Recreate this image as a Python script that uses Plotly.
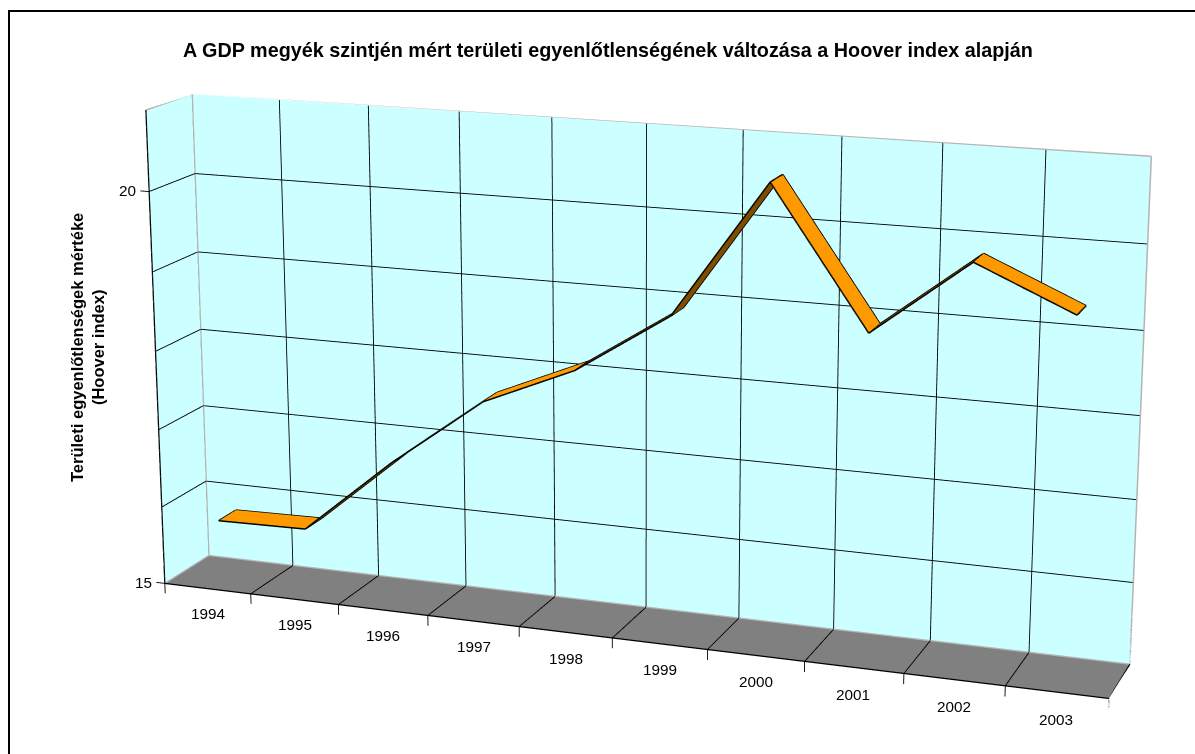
import numpy as np
import plotly.graph_objects as go

# ---- data ----
years = ["1994", "1995", "1996", "1997", "1998", "1999", "2000", "2001", "2002", "2003"]
hoover = [15.78, 15.80, 16.78, 17.65, 18.15, 18.91, 20.58, 18.91, 19.83, 19.32]
value_ticks = [15, 20]
grid_values = [15, 16, 17, 18, 19, 20, 21]
title = "A GDP megyék szintjén mért területi egyenlőtlenségének változása a Hoover index alapján"
y_title = "Területi egyenlőtlenségek mértéke<br>(Hoover index)"

# ---- styles ----
ORANGE = "#FF9900"; BROWN = "#7F4C00"; WALL = "#CCFFFF"; FLOOR = "#808080"; EDGE = "#B4B4B4"
# side of the ribbon that faces the viewer on each segment
segment_colors = [ORANGE, BROWN, BROWN, ORANGE, BROWN, BROWN, ORANGE, BROWN, ORANGE]

# ---- 3-D box: categories along x, series depth along y, value along z ----
n = len(years)
Zlo, Zhi = grid_values[0], grid_values[-1]
RIB0, RIB1 = 0.3, 0.7          # 150 % gap depth
xr = [-0.45, n]; yr = [0, 1.01]; zr = [14.55, Zhi]

# camera, fitted for the box x 0..10, y 0..1, z 15..21 with sizes 2, 0.1996, 1.0043
base_range = [(0, 10), (0, 1), (15, 21)]
base_size = np.array([2.0, 0.1996, 1.0043])
EYE = np.array([2.0743, -5.7019, 1.6224]); CEN = np.array([-1.2872, 3.5968, -0.9954])
UP = (0.0045, -0.0157, 1.0)
CX, CY, F = 635.7, 374.9, 3171.0
unit = base_size / np.array([b - a for a, b in base_range])
new_range = [xr, yr, zr]
size = np.array([(r[1] - r[0]) for r in new_range]) * unit
shift = np.array([(sum(r) - sum(b)) / 2 for r, b in zip(new_range, base_range)]) * unit
eye = EYE - shift; cen = CEN - shift

# the scene needs a long lens: its viewport is taller than the window and is cropped
W = int(round(2 * CX)); H = int(round(2 * F * np.tan(np.pi / 8)))
TOP = int(round(H / 2 - CY))
def px(x): return x / W
def py(y): return 1 - (y + TOP) / H

traces = []
FLAT = dict(ambient=1, diffuse=0, specular=0, fresnel=0, roughness=1)
def quad(xs, ys, zs, color):
    traces.append(go.Mesh3d(x=xs, y=ys, z=zs, i=[0, 0], j=[1, 2], k=[2, 3], color=color, flatshading=True,
                            lighting=FLAT, hoverinfo="skip", showscale=False))
def lines(segs, color, width):
    X, Y, Z = [], [], []
    for a, b in segs:
        X += [a[0], b[0], None]; Y += [a[1], b[1], None]; Z += [a[2], b[2], None]
    traces.append(go.Scatter3d(x=X, y=Y, z=Z, mode="lines", line=dict(color=color, width=width),
                               hoverinfo="skip", showlegend=False))

# walls and floor, set a hair behind their grid lines
quad([0, n, n, 0], [1.008] * 4, [Zlo, Zlo, Zhi, Zhi], WALL)
quad([-0.004] * 4, [0, 1, 1, 0], [Zlo, Zlo, Zhi, Zhi], WALL)
quad([0, n, n, 0], [0, 0, 1, 1], [Zlo - 0.006] * 4, FLOOR)

# grid
grid = []
for v in grid_values[1:-1]:
    grid += [((0, 0, v), (0, 1, v)), ((0, 1, v), (n, 1, v))]
for c in range(1, n):
    grid += [((c, 1, Zlo), (c, 1, Zhi)), ((c, 0, Zlo), (c, 1, Zlo))]
lines(grid, "black", 1.8)
lines([((0, 0, Zhi), (0, 1, Zhi)), ((0, 1, Zhi), (n, 1, Zhi)), ((n, 1, Zhi), (n, 1, Zlo)),
       ((0, 1, Zhi), (0, 1, Zlo)), ((0, 1, Zlo), (n, 1, Zlo)), ((0, 0, Zlo), (0, 1, Zlo))], EDGE, 3)
lines([((0, 0, Zhi), (0, 0, Zlo)), ((0, 0, Zlo), (n, 0, Zlo)), ((n, 0, Zlo), (n, 1, Zlo))], "black", 2.5)
# ticks
lines([((c, 0, Zlo), (c, 0, Zlo - 0.13)) for c in range(n)], "black", 1.8)
lines([((n, 0, Zlo), (n, 0, Zlo - 0.13))], "#808080", 3)
lines([((0, 0, v), (-0.1, 0, v)) for v in value_ticks], "black", 1.8)

# ribbon
cx = [i + 0.5 for i in range(n)]
rx, ry, rz = [], [], []
for c, v in zip(cx, hoover):
    rx += [c, c]; ry += [RIB0, RIB1]; rz += [v, v]
ti, tj, tk, fc = [], [], [], []
for s in range(n - 1):
    a = 2 * s
    ti += [a, a]; tj += [a + 1, a + 3]; tk += [a + 3, a + 2]; fc += [segment_colors[s]] * 2
traces.append(go.Mesh3d(x=rx, y=ry, z=rz, i=ti, j=tj, k=tk, facecolor=fc, flatshading=True,
                        lighting=FLAT, hoverinfo="skip", showscale=False))
out = []
for s in range(n - 1):
    out += [((cx[s], RIB0, hoover[s]), (cx[s + 1], RIB0, hoover[s + 1])),
            ((cx[s], RIB1, hoover[s]), (cx[s + 1], RIB1, hoover[s + 1]))]
for s in range(n):
    out.append(((cx[s], RIB0, hoover[s]), (cx[s], RIB1, hoover[s])))
lines(out, "black", 3)

LABEL = dict(family="Liberation Sans", size=15.3, color="black")
def txt(x, y, z, t, **k):
    return dict(x=x, y=y, z=z, text=t, showarrow=False, font=LABEL, **k)
scene_ann = [txt(c, 0, Zlo - 0.33, y, xanchor="center", yanchor="middle") for c, y in zip(cx, years)]
scene_ann += [txt(-0.13, 0, v, str(v), xanchor="right", yanchor="middle") for v in value_ticks]

fig = go.Figure(traces)
fig.update_layout(
    width=W, height=H, margin=dict(l=0, r=0, t=0, b=0), autosize=False, showlegend=False,
    paper_bgcolor="white", font=dict(family="Liberation Sans", color="black"),
    scene=dict(
        domain=dict(x=[0, 1], y=[0, 1]), aspectmode="manual",
        aspectratio=dict(x=size[0], y=size[1], z=size[2]),
        camera=dict(eye=dict(x=eye[0], y=eye[1], z=eye[2]), center=dict(x=cen[0], y=cen[1], z=cen[2]),
                    up=dict(x=UP[0], y=UP[1], z=UP[2]), projection=dict(type="perspective")),
        xaxis=dict(visible=False, range=xr, autorange=False), yaxis=dict(visible=False, range=yr, autorange=False),
        zaxis=dict(visible=False, range=zr, autorange=False),
        bgcolor="rgba(0,0,0,0)", annotations=scene_ann),
    annotations=[
        dict(x=px(607.5), y=py(50), xref="paper", yref="paper", text="<b>%s</b>" % title, showarrow=False,
             xanchor="center", yanchor="middle", font=dict(family="Liberation Sans", size=19.8, color="black")),
        dict(x=px(87), y=py(348), xref="paper", yref="paper", text="<b>%s</b>" % y_title, showarrow=False, textangle=-90,
             xanchor="center", yanchor="middle", font=dict(family="Liberation Sans", size=16.5, color="black")),
    ],
    # only the top and left of the chart's frame fall inside the picture
    shapes=[dict(type="rect", xref="paper", yref="paper", x0=px(9), x1=px(1260), y0=py(11), y1=py(900),
                 line=dict(color="black", width=2), fillcolor="rgba(0,0,0,0)")],
)
post = """
document.documentElement.style.overflow='hidden';document.body.style.overflow='hidden';document.body.style.margin='0';
var g=document.getElementById('{plot_id}');g.style.position='fixed';g.style.left='0px';g.style.top='-%dpx';
""" % TOP
fig.write_html("out.html", post_script=post, config=dict(displayModeBar=False))
